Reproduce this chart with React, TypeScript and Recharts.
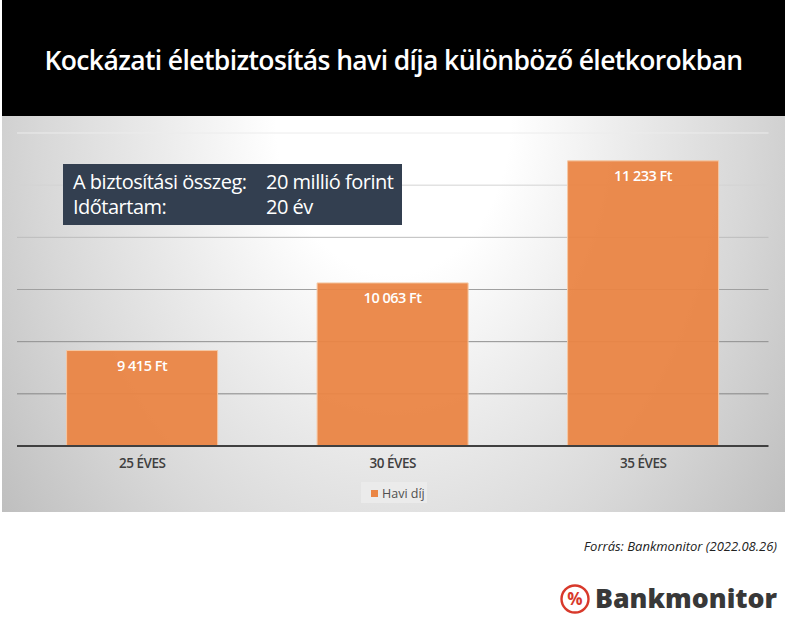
import React from "react";
import { BarChart, Bar, XAxis, YAxis, CartesianGrid, LabelList, Legend } from "recharts";

const categories = ["25 ÉVES", "30 ÉVES", "35 ÉVES"];
const monthlyFee = [9415, 10063, 11233];
const feeLabels = ["9 415 Ft", "10 063 Ft", "11 233 Ft"];
const yTicks = [8500, 9000, 9500, 10000, 10500, 11000, 11500];
const gridColors: Record<number, string> = { 8500: "none", 9000: "#858585", 9500: "#8f8f8f", 10000: "#a0a0a0", 10500: "#bcbcbc", 11000: "#d4d4d4", 11500: "#ececec" };
const seriesName = "Havi díj";
const titleText = "Kockázati életbiztosítás havi díja különböző életkorokban";
const infoRows = [["A biztosítási összeg:", "20 millió forint"], ["Időtartam:", "20 év"]];
const sourceText = "Forrás: Bankmonitor (2022.08.26)";

const data = categories.map((c, i) => ({ category: c, fee: monthlyFee[i], label: feeLabels[i] }));
const font = "'Open Sans', sans-serif";

const abs = (x: number, y: number, w: number, h: number): React.CSSProperties => ({ position: "absolute", left: x, top: y, width: w, height: h });

// Lines are ordered top-down or bottom-up depending on the scale, so pick the colour by the pixel position.
const gridLine = (props: any) => {
  const step = (445 - 133) / (yTicks.length - 1);
  const idx = Math.round((445 - props.y1) / step);
  const tick = yTicks[Math.max(0, Math.min(yTicks.length - 1, idx))];
  return <line key={props.key ?? props.y1} x1={props.x1} x2={props.x2} y1={props.y1} y2={props.y2} stroke={gridColors[tick]} strokeWidth={1} />;
};

export default function App() {
  return (
    <div style={{ position: "absolute", left: 0, top: 0, width: 788, height: 636, background: "#fff", overflow: "hidden", fontFamily: font }}>
      <div style={{ ...abs(2, 0, 783, 116), background: "#000", color: "#fff", fontSize: 26.5, fontWeight: 600, letterSpacing: -0.62, lineHeight: "120px", textAlign: "center", whiteSpace: "nowrap" }}>{titleText}</div>
      <div style={{ ...abs(2, 116, 783, 396), background: "radial-gradient(ellipse 60% 160% at 50% 0%, #ffffff 25%, #ebebeb 50%, #d8d8d8 75%, #bebebe 105%)" }} />
      <div style={{ position: "absolute", left: 0, top: 0 }}>
        <BarChart width={788} height={636} data={data} margin={{ top: 112, right: 19.5, bottom: 0, left: 17 }} barCategoryGap="19.8%">
          <CartesianGrid vertical={false} horizontal={gridLine} />
          <YAxis hide domain={[8500, 11500]} ticks={yTicks} allowDataOverflow />
          <XAxis dataKey="category" height={190} interval={0} tickLine={false} axisLine={{ stroke: "#404040", strokeWidth: 2 }} tickMargin={6}
            tick={{ fill: "#3f3f3f", fontSize: 13.5, fontWeight: 600, fontFamily: font, letterSpacing: -0.5 }} />
          <Bar dataKey="fee" name={seriesName} fill="#ea8544" fillOpacity={0.95} stroke="#f5c8a4" strokeWidth={1} isAnimationActive={false}>
            <LabelList dataKey="label" position="insideTop" offset={10} fill="#fff" stroke="none" fontSize={14.5} fontWeight={600} fontFamily={font} letterSpacing={-0.5} />
          </Bar>
          <Legend layout="horizontal" align="left" verticalAlign="top" iconType="square" iconSize={7}
            wrapperStyle={{ left: 361, top: 482, width: 66, height: 21, background: "#ebebeb", lineHeight: "20px", padding: "0 0 0 10px", margin: 0, boxSizing: "border-box", whiteSpace: "nowrap" }}
            formatter={(v: string) => <span style={{ color: "#505050", fontSize: 12.5, fontFamily: font, whiteSpace: "nowrap", display: "inline-block" }}>{v}</span>} />
        </BarChart>
      </div>
      <div style={{ ...abs(63, 164, 339, 61), background: "#333f50", color: "#fff", fontSize: 20, letterSpacing: -0.5, lineHeight: "25px", boxSizing: "border-box", paddingTop: 5 }}>
        {infoRows.map((r) => (
          <div key={r[0]} style={{ position: "relative", height: 25, whiteSpace: "nowrap" }}>
            <span style={{ position: "absolute", left: 10 }}>{r[0]}</span>
            <span style={{ position: "absolute", left: 203 }}>{r[1]}</span>
          </div>
        ))}
      </div>
      <div style={{ ...abs(480, 537, 297, 18), textAlign: "right", fontSize: 13, fontStyle: "italic", color: "#222", lineHeight: "18px", whiteSpace: "nowrap" }}>{sourceText}</div>
      <svg style={{ ...abs(558, 578, 230, 44), overflow: "visible" }} width={230} height={44}>
        <circle cx="17" cy="21" r="13.5" fill="none" stroke="#d8392b" strokeWidth="2.4" />
        <text x="17" y="27" textAnchor="middle" fontSize="17" fontWeight="700" fill="#d8392b" fontFamily={font}>%</text>
        <text x="37" y="30" fontSize="26.7" fontWeight="800" fill="#383838" fontFamily={font}>Bankmonitor</text>
      </svg>
    </div>
  );
}
